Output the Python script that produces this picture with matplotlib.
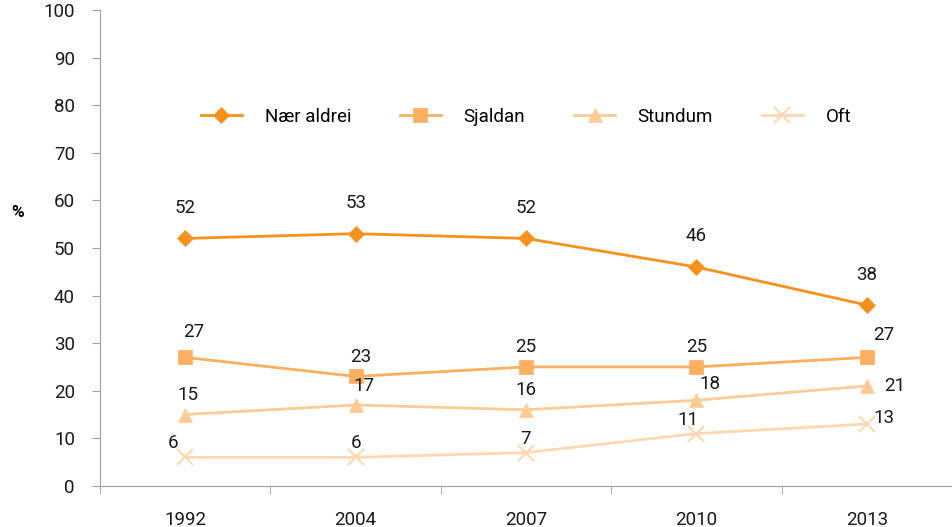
import numpy as np
import matplotlib.pyplot as plt

plt.rcParams['font.family'] = ['Roboto', 'DejaVu Sans']

# data
years = ['1992', '2004', '2007', '2010', '2013']
naer_aldrei = [52, 53, 52, 46, 38]
sjaldan = [27, 23, 25, 25, 27]
stundum = [15, 17, 16, 18, 21]
oft = [6, 6, 7, 11, 13]

x = np.arange(len(years))

fig = plt.figure(figsize=(9.52, 5.27), dpi=100)
ax = fig.add_axes([0.105, 0.078, 0.895, 0.903])

series = [
    ('Nær aldrei', naer_aldrei, '#F5921E', 'D', 8),
    ('Sjaldan', sjaldan, '#FBAF5F', 's', 10),
    ('Stundum', stundum, '#FDCB94', '^', 10),
    ('Oft', oft, '#FDD8B0', 'x', 12),
]
for name, vals, col, mk, ms in series:
    ax.plot(x, vals, color=col, marker=mk, markersize=ms, linewidth=2,
            markeredgewidth=1.5 if mk == 'x' else 0.5, label=name)

# label offsets in points (dx, dy)
offsets = {
    'Nær aldrei': [(0, 22)] * 5,
    'Sjaldan': [(6, 18), (4, 14), (0, 14), (0, 14), (12, 16)],
    'Stundum': [(2, 14), (6, 14), (0, 14), (10, 12), (20, 0)],
    'Oft': [(-9, 10), (0, 10), (0, 10), (-6, 10), (12, 4)],
}
for name, vals, col, mk, ms in series:
    for i, v in enumerate(vals):
        dx, dy = offsets[name][i]
        ax.annotate(str(v), (x[i], v), xytext=(dx, dy), textcoords='offset points',
                    ha='center', va='center', fontsize=13.5, color='#1a1a1a')

ax.set_xlim(-0.5, 4.5)
ax.set_ylim(0, 100)
ax.set_yticks(range(0, 101, 10))
ax.set_xticks(x)
ax.set_xticklabels(years)
ax.set_xticks(np.arange(-0.5, 4.6, 1), minor=True)
ax.tick_params(axis='x', which='major', length=0, pad=18, labelsize=13.5, colors='#1a1a1a')
ax.tick_params(axis='x', which='minor', length=6, color='#A0A0A0')
ax.tick_params(axis='y', length=6, color='#A0A0A0', labelsize=13.5, labelcolor='#1a1a1a', pad=12)

for s in ['top', 'right']:
    ax.spines[s].set_visible(False)
for s in ['left', 'bottom']:
    ax.spines[s].set_color('#A0A0A0')

fig.text(0.018, 0.597, '%', fontsize=12.5, fontweight='bold', ha='center', va='center')

ax.legend(loc='center', bbox_to_anchor=(0.5, 0.776), ncol=4, frameon=False,
          fontsize=13.5, handlelength=2.2, columnspacing=2.6, handletextpad=1.2)

fig.savefig('out.png', dpi=100)
